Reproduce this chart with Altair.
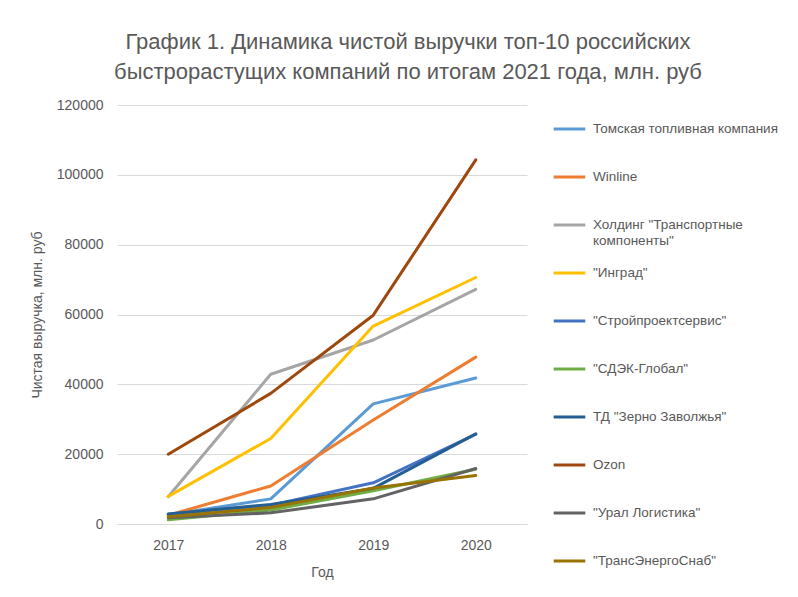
import altair as alt
import pandas as pd

years = ["2017", "2018", "2019", "2020"]

companies = [
    "Томская топливная компания",
    "Winline",
    'Холдинг "Транспортные компоненты"',
    '"Инград"',
    '"Стройпроектсервис"',
    '"СДЭК-Глобал"',
    'ТД "Зерно Заволжья"',
    "Ozon",
    '"Урал Логистика"',
    '"ТрансЭнергоСнаб"',
]

colors = ["#5B9BD5", "#ED7D31", "#A5A5A5", "#FFC000", "#4472C4",
          "#70AD47", "#255E91", "#9E480E", "#636363", "#997300"]

tomsk = [2600, 7200, 34400, 41800]
winline = [2500, 10900, 29800, 47800]
holding = [7800, 42900, 52700, 67200]
ingrad = [7900, 24500, 56700, 70600]
stroy = [2800, 5400, 11800, 25700]
sdek = [1200, 4000, 9500, 15700]
zerno = [2900, 5600, 10200, 25800]
ozon = [20000, 37400, 59800, 104300]
ural = [1800, 3200, 7200, 15900]
transenergo = [2100, 4700, 10300, 13900]

series = [tomsk, winline, holding, ingrad, stroy, sdek, zerno, ozon, ural, transenergo]

rows = []
for name, vals in zip(companies, series):
    for y, v in zip(years, vals):
        rows.append({"company": name, "year": y, "value": v})
df = pd.DataFrame(rows)

FONT = "Liberation Sans"
GREY = "#595959"

label_expr = (
    "indexof(datum.label, 'Холдинг') >= 0 ? "
    "['Холдинг \"Транспортные', 'компоненты\"'] : datum.label"
)

chart = alt.Chart(df).mark_line(strokeWidth=3, strokeCap="round", strokeJoin="round").encode(
    x=alt.X(
        "year:N",
        sort=years,
        scale=alt.Scale(padding=0.5),
        axis=alt.Axis(title="Год", labelAngle=0, labelPadding=14, titlePadding=13,
                      grid=False, ticks=False, domain=True, domainColor="#D9D9D9"),
    ),
    y=alt.Y(
        "value:Q",
        scale=alt.Scale(domain=[0, 120000]),
        axis=alt.Axis(title="Чистая выручка, млн. руб",
                      values=[0, 20000, 40000, 60000, 80000, 100000, 120000],
                      format="d", labelPadding=14, titlePadding=12,
                      ticks=False, domain=False, gridColor="#D9D9D9"),
    ),
    color=alt.Color(
        "company:N",
        sort=companies,
        scale=alt.Scale(domain=companies, range=colors),
        legend=alt.Legend(
            title=None, orient="none", legendX=435, legendY=0,
            symbolType="stroke", symbolSize=1000, symbolStrokeWidth=3,
            labelFontSize=13.5, labelFont=FONT, labelColor=GREY,
            labelOffset=6, rowPadding=0, clipHeight=48, labelLimit=260,
            labelExpr=label_expr, labelBaseline="middle",
        ),
    ),
).properties(
    width=410,
    height=419,
    title=alt.TitleParams(
        text=["График 1. Динамика чистой выручки топ-10 российских",
              "быстрорастущих компаний по итогам 2021 года, млн. руб"],
        font=FONT, fontSize=22, fontWeight="normal", color=GREY,
        anchor="middle", frame="group", dx=86, offset=14, lineHeight=30,
    ),
    autosize=alt.AutoSizeParams(type="none"),
    padding={"left": 109, "top": 97, "right": 262, "bottom": 60},
).configure_view(
    stroke=None
).configure_axis(
    labelFont=FONT, titleFont=FONT, labelFontSize=14, titleFontSize=14,
    labelColor=GREY, titleColor=GREY, titleFontWeight="normal",
)

chart.save("out.html", embed_options={"renderer": "svg", "actions": False})
